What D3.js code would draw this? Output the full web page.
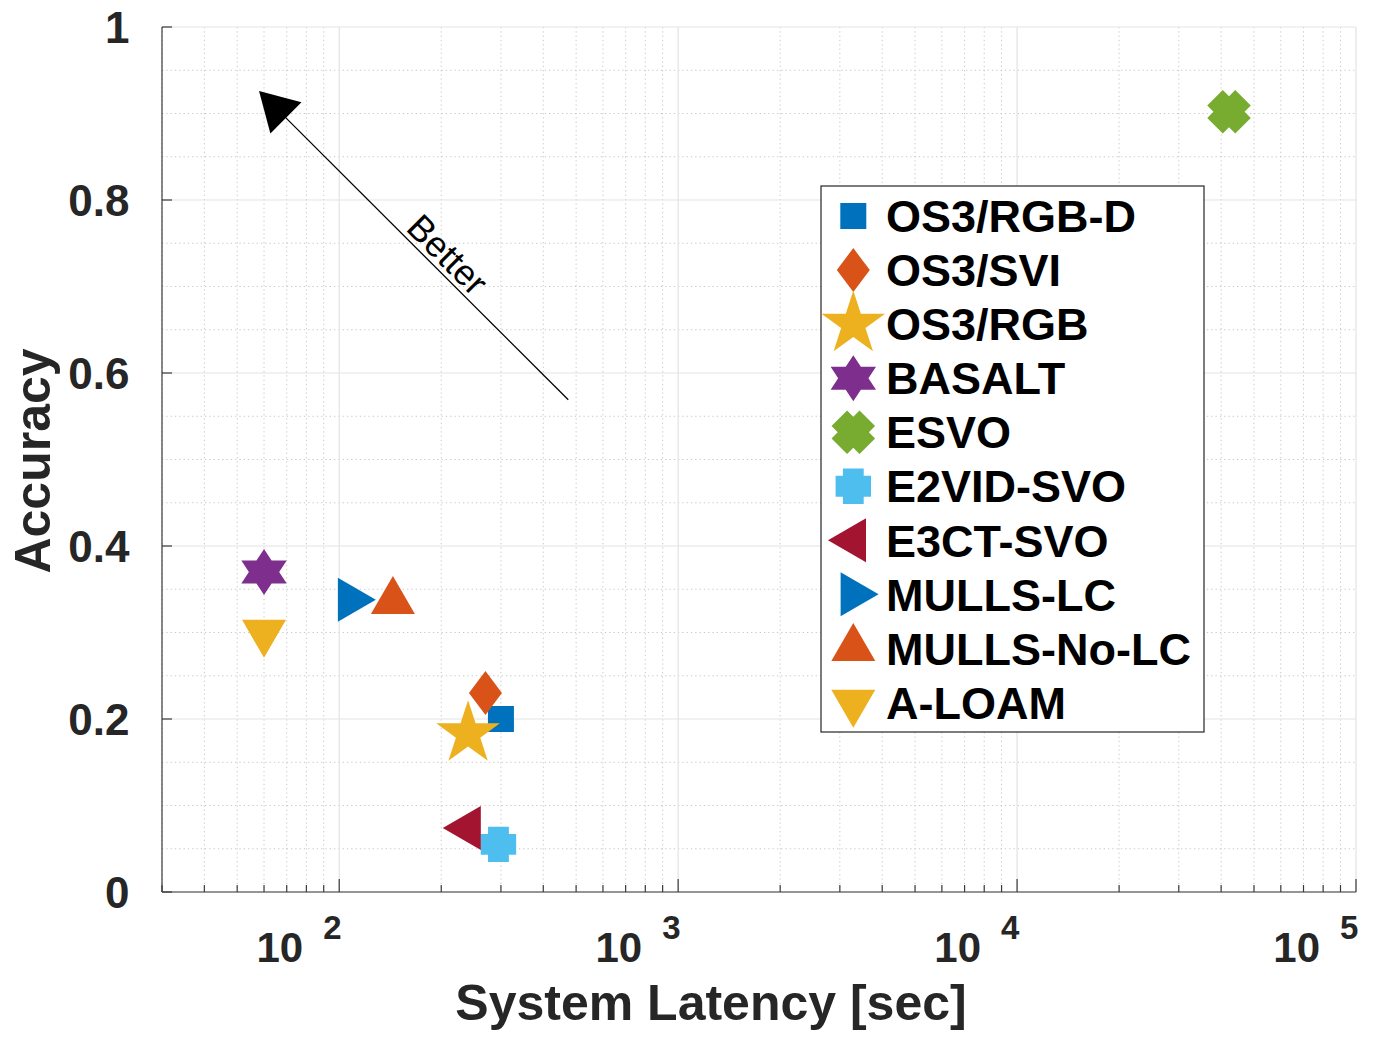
<!DOCTYPE html>
<html>
<head>
<meta charset="utf-8">
<script src="https://cdn.jsdelivr.net/npm/d3@7"></script>
<style>
  html, body { margin: 0; padding: 0; background: #fff; }
  svg { display: block; font-family: "Liberation Sans", Arial, Helvetica, sans-serif; }
</style>
</head>
<body>
<svg id="chart" width="1379" height="1037"></svg>
<script>
// Methods compared: latency (seconds, log axis) vs. accuracy
const methods  = ["OS3/RGB-D", "OS3/SVI", "OS3/RGB", "BASALT", "ESVO", "E2VID-SVO", "E3CT-SVO", "MULLS-LC", "MULLS-No-LC", "A-LOAM"];
const latency  = [300, 270, 240, 60, 42200, 295, 240, 108, 144, 60];
const accuracy = [0.2, 0.23, 0.183, 0.37, 0.902, 0.055, 0.074, 0.338, 0.336, 0.3];
const colors   = ["#0072BD", "#D95319", "#EDB120", "#7E2F8E", "#77AC30", "#4DBEEE", "#A2142F", "#0072BD", "#D95319", "#EDB120"];
const markers  = ["square", "diamond", "pentagram", "hexagram", "xcross", "plus", "triangleLeft", "triangleRight", "triangleUp", "triangleDown"];

// Axis ticks
const xDecades   = [100, 1000, 10000, 100000];
const xDecadeExp = ["2", "3", "4", "5"];
const yTicks     = [0, 0.2, 0.4, 0.6, 0.8, 1];
const yTickText  = ["0", "0.2", "0.4", "0.6", "0.8", "1"];

// "Better" direction arrow (tail -> tip), in data units
const arrowTail = [474, 0.569];
const arrowTip  = [58, 0.926];

const svg = d3.select("#chart");
const L = 162, R = 1356, T = 27, B = 892;

const x = d3.scaleLog().domain([30, 100000]).range([L, R]);
const y = d3.scaleLinear().domain([0, 1]).range([B, T]);

// minor log positions inside the domain
const xMinor = [];
[10, 100, 1000, 10000].forEach(dec => {
  for (let k = 2; k <= 9; k++) {
    const v = dec * k;
    if (v >= 30 && v <= 100000) xMinor.push(v);
  }
});
const yMinor = d3.range(0.05, 1.0, 0.05).filter(v => Math.abs(v * 5 - Math.round(v * 5)) > 1e-6);

const grid = svg.append("g");
// minor grid (dotted)
grid.selectAll(".xm").data(xMinor).join("line")
  .attr("x1", d => x(d)).attr("x2", d => x(d)).attr("y1", T).attr("y2", B)
  .attr("stroke", "#c8c8c8").attr("stroke-width", 1).attr("stroke-dasharray", "1.3,3");
grid.selectAll(".ym").data(yMinor).join("line")
  .attr("x1", L).attr("x2", R).attr("y1", d => y(d)).attr("y2", d => y(d))
  .attr("stroke", "#c8c8c8").attr("stroke-width", 1).attr("stroke-dasharray", "1.3,3");
// major grid (solid)
grid.selectAll(".xM").data(xDecades).join("line")
  .attr("x1", d => x(d)).attr("x2", d => x(d)).attr("y1", T).attr("y2", B)
  .attr("stroke", "#e3e3e3").attr("stroke-width", 1.2);
grid.selectAll(".yM").data(yTicks).join("line")
  .attr("x1", L).attr("x2", R).attr("y1", d => y(d)).attr("y2", d => y(d))
  .attr("stroke", "#e3e3e3").attr("stroke-width", 1.2);

// axes lines and inward ticks
const ax = svg.append("g").attr("stroke", "#3a3a3a").attr("stroke-width", 1.2);
ax.append("line").attr("x1", L).attr("x2", L).attr("y1", T).attr("y2", B);
ax.append("line").attr("x1", L).attr("x2", R).attr("y1", B).attr("y2", B);
ax.selectAll(".yt").data(yTicks).join("line")
  .attr("x1", L).attr("x2", L + 10).attr("y1", d => y(d)).attr("y2", d => y(d));
ax.selectAll(".xt").data(xDecades).join("line")
  .attr("x1", d => x(d)).attr("x2", d => x(d)).attr("y1", B).attr("y2", B - 13);
ax.selectAll(".xmt").data(xMinor).join("line")
  .attr("x1", d => x(d)).attr("x2", d => x(d)).attr("y1", B).attr("y2", B - 7);

// tick labels
const tickColor = "#262626";
svg.append("g").selectAll("text").data(yTicks).join("text")
  .attr("x", 129.5).attr("y", d => y(d) + 15.7)
  .attr("text-anchor", "end").attr("font-size", 44).attr("font-weight", "bold")
  .attr("fill", tickColor).text((d, i) => yTickText[i]);

const xl = svg.append("g").attr("fill", tickColor).attr("font-weight", "bold");
xl.selectAll(".base").data(xDecades).join("text")
  .attr("x", d => x(d) - 36).attr("y", 962)
  .attr("text-anchor", "end").attr("font-size", 42).text("10");
xl.selectAll(".exp").data(xDecades).join("text")
  .attr("x", d => x(d) - 16).attr("y", 939)
  .attr("text-anchor", "start").attr("font-size", 33).text((d, i) => xDecadeExp[i]);

// axis titles
svg.append("text").attr("x", 711).attr("y", 1020).attr("text-anchor", "middle")
  .attr("font-size", 50).attr("font-weight", "bold").attr("fill", tickColor)
  .text("System Latency [sec]");
svg.append("text").attr("transform", "translate(50,461) rotate(-90)").attr("text-anchor", "middle")
  .attr("font-size", 50).attr("font-weight", "bold").attr("fill", tickColor)
  .text("Accuracy");

// direction arrow
const tx = x(arrowTail[0]), ty = y(arrowTail[1]);
const px = x(arrowTip[0]),  py = y(arrowTip[1]);
const len = Math.hypot(px - tx, py - ty);
const ux = (px - tx) / len, uy = (py - ty) / len;     // unit vector toward tip
const nx = -uy, ny = ux;                               // normal
const headLen = 38, headHalf = 22;
const bx = px - ux * headLen, by = py - uy * headLen;
svg.append("line").attr("x1", tx).attr("y1", ty).attr("x2", bx).attr("y2", by)
  .attr("stroke", "#000").attr("stroke-width", 1.3);
svg.append("path")
  .attr("d", `M${px},${py}L${bx + nx * headHalf},${by + ny * headHalf}L${bx - nx * headHalf},${by - ny * headHalf}Z`)
  .attr("fill", "#000");
// label along the arrow, on its upper-right side
{
  const t = 0.57;
  const cx = px + (tx - px) * t, cy = py + (ty - py) * t;
  const off = 5;   // baseline offset from the shaft
  const ox = cx + Math.SQRT1_2 * off, oy = cy - Math.SQRT1_2 * off;
  const ang = Math.atan2(ty - py, tx - px) * 180 / Math.PI;
  svg.append("text")
    .attr("transform", `translate(${ox},${oy}) rotate(${ang})`)
    .attr("text-anchor", "middle").attr("font-size", 36).attr("fill", "#000")
    .text("Better");
}

// marker shapes (pixel units, centred on the data point)
function poly(pts) { return "M" + pts.map(p => p[0].toFixed(2) + "," + p[1].toFixed(2)).join("L") + "Z"; }
function star(n, rOut, rIn, sx) {
  const pts = [];
  for (let k = 0; k < 2 * n; k++) {
    const a = -Math.PI / 2 + k * Math.PI / n;
    const r = k % 2 === 0 ? rOut : rIn;
    pts.push([Math.cos(a) * r * sx, Math.sin(a) * r]);
  }
  return pts;
}
function plusPts(a, b) {
  return [[a,-b],[a,-a],[b,-a],[b,a],[a,a],[a,b],[-a,b],[-a,a],[-b,a],[-b,-a],[-a,-a],[-a,-b]];
}
function rotate(pts, deg) {
  const c = Math.cos(deg * Math.PI / 180), s = Math.sin(deg * Math.PI / 180);
  return pts.map(p => [p[0] * c - p[1] * s, p[0] * s + p[1] * c]);
}
const shapePath = {
  square:        poly([[-13,-13],[13,-13],[13,13],[-13,13]]),
  diamond:       poly([[0,-22],[16.5,0],[0,22],[-16.5,0]]),
  pentagram:     poly(star(5, 33.5, 12.8, 1)),
  hexagram:      poly(star(6, 23, 13.3, 1.14)),
  xcross:        poly(rotate(plusPts(11, 19.8), 45)),
  plus:          poly(plusPts(10.4, 17.7)),
  triangleUp:    poly([[0,-25.3],[22,12.7],[-22,12.7]]),
  triangleDown:  poly([[0,25.3],[22,-12.7],[-22,-12.7]]),
  triangleRight: poly([[25.3,0],[-12.7,-22],[-12.7,22]]),
  triangleLeft:  poly([[-25.3,0],[12.7,-22],[12.7,22]])
};

const idx = d3.range(methods.length);
svg.append("g").selectAll("path").data(idx).join("path")
  .attr("transform", i => `translate(${x(latency[i])},${y(accuracy[i])})`)
  .attr("d", i => shapePath[markers[i]])
  .attr("fill", i => colors[i]);

// legend
const lg = svg.append("g");
lg.append("rect").attr("x", 821).attr("y", 186).attr("width", 383).attr("height", 546)
  .attr("fill", "#fff").attr("stroke", "#262626").attr("stroke-width", 1.2);
const rowY = i => 216 + 54.05 * i;
lg.selectAll("path").data(idx).join("path")
  .attr("transform", i => `translate(853.3,${rowY(i)})`)
  .attr("d", i => shapePath[markers[i]])
  .attr("fill", i => colors[i]);
lg.selectAll("text").data(idx).join("text")
  .attr("x", 886).attr("y", i => rowY(i) + 16.2)
  .attr("font-size", 45).attr("font-weight", "bold").attr("fill", "#000")
  .text(i => methods[i]);
</script>
</body>
</html>
